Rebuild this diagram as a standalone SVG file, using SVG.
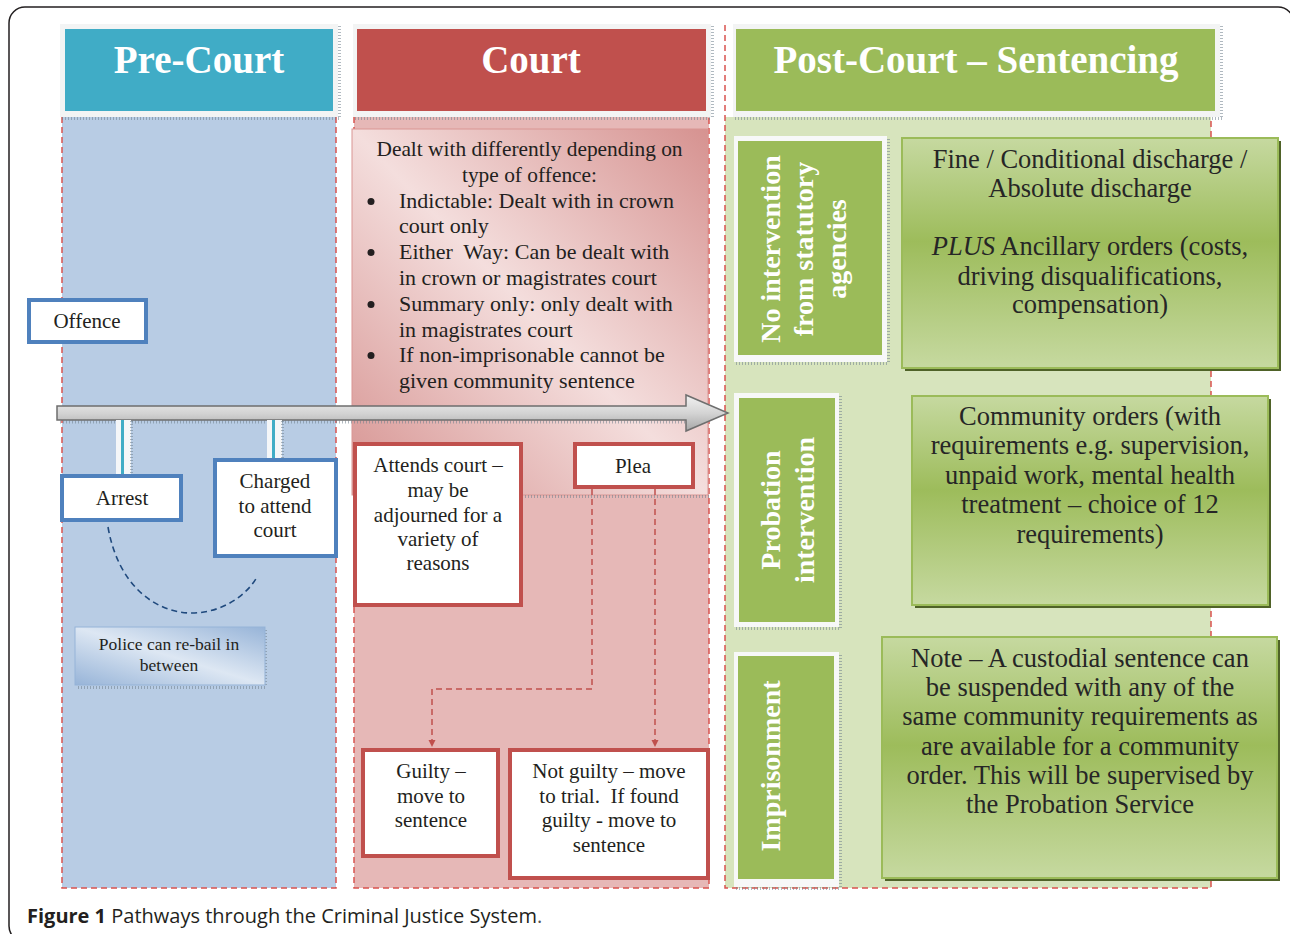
<svg xmlns="http://www.w3.org/2000/svg" width="1290" height="934" viewBox="0 0 1290 934">
<defs>
<style>
.serif{font-family:"Liberation Serif","Times New Roman",serif;fill:#231F20}
.title{font-family:"Liberation Serif","Times New Roman",serif;font-weight:bold;font-size:39px;fill:#FFFFFF;text-anchor:middle}
.vlab{font-family:"Liberation Serif","Times New Roman",serif;font-weight:bold;font-size:28px;fill:#FFFFFF;text-anchor:middle}
.box{font-family:"Liberation Serif","Times New Roman",serif;font-size:21px;fill:#231F20;text-anchor:middle}
.small{font-family:"Liberation Serif","Times New Roman",serif;font-size:17.5px;fill:#231F20;text-anchor:middle}
.green{font-family:"Liberation Serif","Times New Roman",serif;font-size:26.5px;fill:#262626;text-anchor:middle}
.dash{fill:none;stroke:#D9534F;stroke-width:1.5;stroke-dasharray:6 4}
.hdrframe{fill:#F3F4F4}
.shadow{fill:none;stroke:#6F7F8C;stroke-width:3;stroke-dasharray:1 2;opacity:0.55}
.bluebox{fill:#FFFFFF;stroke:#4F81BD;stroke-width:4}
.redbox{fill:#FFFFFF;stroke:#C0504D;stroke-width:4}
.gbox{fill:url(#gGreen);stroke:#9BBB59;stroke-width:2}
.gshadow{fill:#4F6228}
.vframe{fill:#F7F8F8}
.vinner{fill:#9BBB59}
.conn{fill:none;stroke:#C0504D;stroke-width:1.5;stroke-dasharray:6 4}
</style>
<linearGradient id="gGreen" x1="0" y1="0" x2="0" y2="1">
<stop offset="0" stop-color="#C6D9A0"/>
<stop offset="0.45" stop-color="#9DBC5B"/>
<stop offset="1" stop-color="#C6D9A0"/>
</linearGradient>
<linearGradient id="gPink" x1="1" y1="0" x2="0" y2="1">
<stop offset="0" stop-color="#D69290"/>
<stop offset="0.5" stop-color="#F4DEDD"/>
<stop offset="1" stop-color="#D69290"/>
</linearGradient>
<linearGradient id="gBlue" x1="1" y1="0" x2="0" y2="1">
<stop offset="0" stop-color="#97B4D8"/>
<stop offset="0.5" stop-color="#DDE7F3"/>
<stop offset="1" stop-color="#97B4D8"/>
</linearGradient>
<linearGradient id="gArrow" x1="0" y1="0" x2="0" y2="1">
<stop offset="0" stop-color="#F2F2F2"/>
<stop offset="0.5" stop-color="#D4D4D4"/>
<stop offset="1" stop-color="#A6A6A6"/>
</linearGradient>
<marker id="ah" viewBox="0 0 10 10" refX="10" refY="5" markerWidth="5" markerHeight="5" orient="auto">
<path d="M0,0 L10,5 L0,10 Z" fill="#C0504D"/>
</marker>
</defs>

<rect x="0" y="0" width="1290" height="934" fill="#FFFFFF"/>
<rect x="9" y="7" width="1285" height="935" rx="16" fill="none" stroke="#231F20" stroke-width="1.5"/>

<!-- Pre-Court column -->
<g id="col-precourt">
<rect x="62" y="117" width="274" height="771" fill="#B8CCE4"/>
<path class="dash" d="M62,117 V888 H336 V117"/>
<rect class="hdrframe" x="60" y="24" width="278" height="93"/>
<rect x="65" y="29" width="268" height="82" fill="#40ACC6"/>
<path class="shadow" d="M62,118.5 H340 M339.5,26 V118"/>
<text class="title" x="199" y="73">Pre-Court</text>
</g>

<!-- Court column -->
<g id="col-court">
<rect x="354" y="117" width="355" height="771" fill="#E6B8B7"/>
<path class="dash" d="M354,117 V888 H709 V117"/>
<rect class="hdrframe" x="353" y="24" width="358" height="93"/>
<rect x="357" y="29" width="349" height="82" fill="#C0504D"/>
<path class="shadow" d="M355,118.5 H712 M712.5,26 V118"/>
<text class="title" x="531" y="73">Court</text>
</g>

<!-- Post-Court column -->
<g id="col-postcourt">
<rect x="725" y="117" width="486" height="771" fill="#D7E4BD"/>
<path class="dash" d="M725,25 V888 H1211 V117"/>
<rect class="hdrframe" x="733" y="24" width="487" height="93"/>
<rect x="736" y="29" width="479" height="82" fill="#9BBB59"/>
<path class="shadow" d="M735,118.5 H1222 M1221.5,26 V118"/>
<text class="title" x="976" y="73">Post-Court – Sentencing</text>
</g>

<!-- Court info box -->
<g id="court-info">
<rect x="352" y="129" width="356" height="366" fill="url(#gPink)" stroke="#D99694" stroke-width="1"/>
<path class="shadow" d="M354,496.5 H709"/>
<text class="serif" font-size="21.4" text-anchor="middle" x="529.5" y="156">Dealt with differently depending on</text>
<text class="serif" font-size="21.4" text-anchor="middle" x="529.5" y="182">type of offence:</text>
<g fill="#231F20">
<circle cx="371" cy="201.5" r="3.5"/>
<circle cx="371" cy="252.5" r="3.5"/>
<circle cx="371" cy="304.5" r="3.5"/>
<circle cx="371" cy="355.5" r="3.5"/>
</g>
<g class="serif" font-size="22">
<text x="399" y="208">Indictable: Dealt with in crown</text>
<text x="399" y="233">court only</text>
<text x="399" y="259" xml:space="preserve">Either  Way: Can be dealt with</text>
<text x="399" y="285">in crown or magistrates court</text>
<text x="399" y="311">Summary only: only dealt with</text>
<text x="399" y="337">in magistrates court</text>
<text x="399" y="362">If non-imprisonable cannot be</text>
<text x="399" y="388">given community sentence</text>
</g>
</g>

<!-- Connectors -->
<g id="connectors">
<path class="shadow" d="M60,422 H686"/>
<path d="M57,406 L686,406 L686,395 L728,413 L686,431 L686,420 L57,420 Z" fill="url(#gArrow)" stroke="#6E6E6E" stroke-width="1.5" stroke-linejoin="miter"/>
<rect x="116" y="420" width="15" height="56" fill="#F4F6F8"/>
<rect x="121" y="420" width="3" height="56" fill="#40ACC6"/>
<path class="shadow" d="M131.5,421 V476" stroke-width="1.5"/>
<rect x="267" y="420" width="15" height="40" fill="#F4F6F8"/>
<rect x="272" y="420" width="3" height="40" fill="#40ACC6"/>
<path class="shadow" d="M282.5,421 V460" stroke-width="1.5"/>
<path d="M108,527 C118,585 155,613 192,613 C222,613 247,595 257,577" fill="none" stroke="#1F497D" stroke-width="1.6" stroke-dasharray="6 4"/>
<path class="conn" d="M592,489 V689 H432 V747" marker-end="url(#ah)"/>
<path class="conn" d="M655,489 V747" marker-end="url(#ah)"/>
</g>

<!-- Pre-Court nodes -->
<g id="node-offence">
<rect class="bluebox" x="29" y="300" width="117" height="42"/>
<text class="box" x="87" y="328">Offence</text>
</g>
<g id="node-arrest">
<rect class="bluebox" x="62" y="476" width="119" height="44"/>
<text class="box" x="122" y="505">Arrest</text>
</g>
<g id="node-charged">
<rect class="bluebox" x="215" y="460" width="121" height="96"/>
<text class="box" x="275" y="488">Charged</text>
<text class="box" x="275" y="513">to attend</text>
<text class="box" x="275" y="537">court</text>
</g>
<g id="node-rebail">
<path class="shadow" d="M78,687.5 H266 M265.5,630 V687" stroke-width="2"/>
<rect x="75" y="627" width="190" height="58" fill="url(#gBlue)" stroke="#95B3D7" stroke-width="1"/>
<text class="small" x="169" y="650">Police can re-bail in</text>
<text class="small" x="169" y="671">between</text>
</g>

<!-- Court nodes -->
<g id="node-attends">
<rect class="redbox" x="355" y="444" width="166" height="161"/>
<text class="box" x="438" y="472">Attends court –</text>
<text class="box" x="438" y="497">may be</text>
<text class="box" x="438" y="522">adjourned for a</text>
<text class="box" x="438" y="546">variety of</text>
<text class="box" x="438" y="570">reasons</text>
</g>
<g id="node-plea">
<rect class="redbox" x="575" y="444" width="118" height="43"/>
<text class="box" x="633" y="473">Plea</text>
</g>
<g id="node-guilty">
<rect class="redbox" x="363" y="750" width="135" height="106"/>
<text class="box" x="431" y="778">Guilty –</text>
<text class="box" x="431" y="803">move to</text>
<text class="box" x="431" y="827">sentence</text>
</g>
<g id="node-notguilty">
<rect class="redbox" x="510" y="750" width="198" height="128"/>
<text class="box" x="609" y="778">Not guilty – move</text>
<text class="box" x="609" y="803" xml:space="preserve">to trial.  If found</text>
<text class="box" x="609" y="827">guilty - move to</text>
<text class="box" x="609" y="852">sentence</text>
</g>

<!-- Post-Court category labels -->
<g id="node-nointervention">
<path class="shadow" d="M736,363.5 H888 M888.5,139 V363" stroke-width="2"/>
<rect class="vframe" x="734" y="136" width="153" height="226"/>
<rect class="vinner" x="738" y="141" width="144" height="214"/>
<text class="vlab" transform="translate(780,249) rotate(-90)">No intervention</text>
<text class="vlab" transform="translate(813,249) rotate(-90)">from statutory</text>
<text class="vlab" transform="translate(846,249) rotate(-90)">agencies</text>
</g>
<g id="node-probation">
<path class="shadow" d="M736,628.5 H840 M840.5,396 V628" stroke-width="2"/>
<rect class="vframe" x="734" y="393" width="105" height="234"/>
<rect class="vinner" x="739" y="398" width="96" height="224"/>
<text class="vlab" transform="translate(780,510) rotate(-90)">Probation</text>
<text class="vlab" transform="translate(814,510) rotate(-90)">intervention</text>
</g>
<g id="node-imprisonment">
<path class="shadow" d="M736,888.5 H840 M840.5,655 V888" stroke-width="2"/>
<rect class="vframe" x="734" y="652" width="105" height="235"/>
<rect class="vinner" x="738" y="656" width="96" height="223"/>
<text class="vlab" transform="translate(780,766) rotate(-90)">Imprisonment</text>
</g>

<!-- Post-Court sentence boxes -->
<g id="node-fine">
<rect class="gshadow" x="905" y="141" width="376" height="230"/>
<rect class="gbox" x="902" y="138" width="376" height="230"/>
<text class="green" x="1090" y="168">Fine / Conditional discharge /</text>
<text class="green" x="1090" y="197">Absolute discharge</text>
<text class="green" x="1090" y="255"><tspan font-style="italic">PLUS</tspan> Ancillary orders (costs,</text>
<text class="green" x="1090" y="285">driving disqualifications,</text>
<text class="green" x="1090" y="313">compensation)</text>
</g>
<g id="node-community">
<rect class="gshadow" x="915" y="399" width="356" height="209"/>
<rect class="gbox" x="912" y="396" width="356" height="209"/>
<text class="green" x="1090" y="425">Community orders (with</text>
<text class="green" x="1090" y="454">requirements e.g. supervision,</text>
<text class="green" x="1090" y="484">unpaid work, mental health</text>
<text class="green" x="1090" y="513">treatment – choice of 12</text>
<text class="green" x="1090" y="543">requirements)</text>
</g>
<g id="node-custodial">
<rect class="gshadow" x="885" y="640" width="395" height="241"/>
<rect class="gbox" x="882" y="637" width="395" height="241"/>
<text class="green" x="1080" y="667">Note – A custodial sentence can</text>
<text class="green" x="1080" y="696">be suspended with any of the</text>
<text class="green" x="1080" y="725">same community requirements as</text>
<text class="green" x="1080" y="755">are available for a community</text>
<text class="green" x="1080" y="784">order. This will be supervised by</text>
<text class="green" x="1080" y="813">the Probation Service</text>
</g>

<!-- Caption -->
<text x="27" y="923" font-family="'Open Sans','Liberation Sans',Arial,sans-serif" font-size="20" fill="#231F20"><tspan font-weight="bold">Figure 1</tspan> Pathways through the Criminal Justice System<tspan fill="#555555">.</tspan></text>
</svg>
